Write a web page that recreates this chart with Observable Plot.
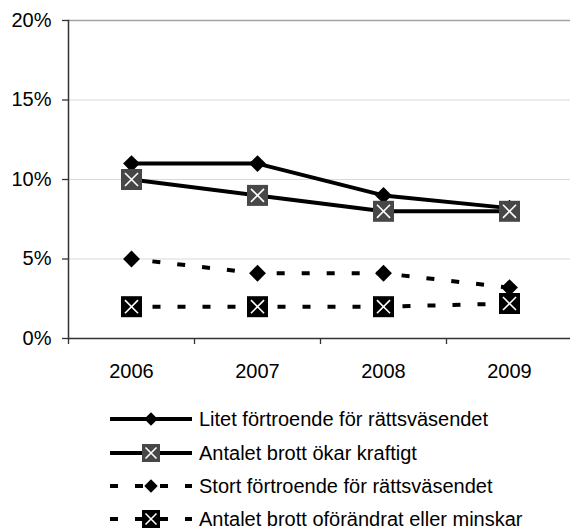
<!DOCTYPE html>
<html>
<head>
<meta charset="utf-8">
<script src="https://cdn.jsdelivr.net/npm/d3@7"></script>
<script src="https://cdn.jsdelivr.net/npm/@observablehq/plot@0.6"></script>
<style>
  html, body { margin: 0; padding: 0; background: #fff; }
  #chart { position: relative; width: 570px; height: 529px; overflow: hidden; font-family: "Liberation Sans", Arial, Helvetica, sans-serif; }
  #chart svg { display: block; }
</style>
</head>
<body>
<div id="chart"></div>
<script>
const years = ["2006", "2007", "2008", "2009"];
const litet = [11, 11, 9, 8.2];
const okar = [10, 9, 8, 8];
const stort = [5, 4.1, 4.1, 3.2];
const oforandrat = [2, 2, 2, 2.2];
const seriesNames = [
  "Litet förtroende för rättsväsendet",
  "Antalet brott ökar kraftigt",
  "Stort förtroende för rättsväsendet",
  "Antalet brott oförändrat eller minskar"
];
const yTicks = [0, 5, 10, 15, 20];

const seriesValues = [litet, okar, stort, oforandrat];
const styles = [
  {dash: null, marker: "diamond", fill: "#000"},
  {dash: null, marker: "square", fill: "#474747"},
  {dash: "8,17", marker: "diamond", fill: "#000"},
  {dash: "8,17", marker: "square", fill: "#000"}
];
const data = seriesNames.map((name, i) => years.map((year, j) => ({series: name, year, value: seriesValues[i][j]})));

const font = "Liberation Sans, Arial, Helvetica, sans-serif";
const xRange = [68, 572];
const band = (xRange[1] - xRange[0]) / years.length;

const marks = [
  Plot.ruleY([5, 10, 15], {stroke: "#d9d9d9", strokeWidth: 1.2}),
  Plot.ruleY([20], {stroke: "#a3a3a3", strokeWidth: 1.6}),
  Plot.axisY({ticks: yTicks, tickFormat: d => d + "%", tickSize: 6, tickPadding: 11, stroke: "#333", strokeWidth: 1.3, fontSize: 20, fill: "#000", label: null}),
  Plot.axisX({ticks: years, tickFormat: () => "", tickSize: 6, dx: -band / 2, stroke: "#333", strokeWidth: 1.3, label: null}),
  Plot.axisX({ticks: years, tickSize: 0, tickPadding: 25, fontSize: 20, fill: "#000", label: null}),
  Plot.frame({anchor: "left", stroke: "#333", strokeWidth: 1.5}),
  Plot.ruleY([0], {stroke: "#333", strokeWidth: 1.5})
];

data.forEach((d, i) => {
  const s = styles[i];
  marks.push(Plot.line(d, {x: "year", y: "value", stroke: "#000", strokeWidth: 4, strokeDasharray: s.dash, strokeDashoffset: 4, strokeLinecap: "butt"}));
  if (s.marker === "diamond") {
    marks.push(Plot.dot(d, {x: "year", y: "value", symbol: "diamond2", r: 7.6, fill: "#000", stroke: "none"}));
  } else {
    marks.push(Plot.dot(d, {x: "year", y: "value", symbol: "square", r: 11.85, fill: s.fill, stroke: "none"}));
    marks.push(Plot.dot(d, {x: "year", y: "value", symbol: "times", r: 6, stroke: "#fff", strokeWidth: 1.6}));
  }
});

const plot = Plot.plot({
  width: 570,
  height: 390,
  marginLeft: 68,
  marginRight: 0,
  marginTop: 20,
  marginBottom: 52,
  style: {fontFamily: font, fontSize: "20px", color: "#000", background: "#fff", overflow: "visible"},
  x: {type: "point", domain: years, range: xRange, padding: 0.5, label: null},
  y: {domain: [0, 20], range: [338, 20], label: null},
  marks
});
document.getElementById("chart").appendChild(plot);

// Legend
const legend = d3.select("#chart").append("svg")
  .attr("width", 570).attr("height", 139)
  .style("font-family", font);
const rowY = [29, 63, 96, 129];
seriesNames.forEach((name, i) => {
  const s = styles[i];
  const g = legend.append("g").attr("transform", `translate(0,${rowY[i]})`);
  g.append("line").attr("x1", 110).attr("x2", 192).attr("y1", 0).attr("y2", 0)
    .attr("stroke", "#000").attr("stroke-width", 4)
    .attr("stroke-dasharray", s.dash);
  if (s.marker === "diamond") {
    g.append("path").attr("transform", "translate(151,0)")
      .attr("d", d3.symbol(d3.symbolDiamond2, 115)()).attr("fill", "#000");
  } else {
    g.append("path").attr("transform", "translate(151,0)")
      .attr("d", d3.symbol(d3.symbolSquare, 324)()).attr("fill", s.fill);
    g.append("path").attr("transform", "translate(151,0)")
      .attr("d", d3.symbol(d3.symbolTimes, 80)()).attr("fill", "none").attr("stroke", "#fff").attr("stroke-width", 1.6);
  }
  g.append("text").attr("x", 199).attr("y", 0).attr("dy", "0.35em")
    .attr("font-size", 20).attr("fill", "#000").text(name);
});
</script>
</body>
</html>
